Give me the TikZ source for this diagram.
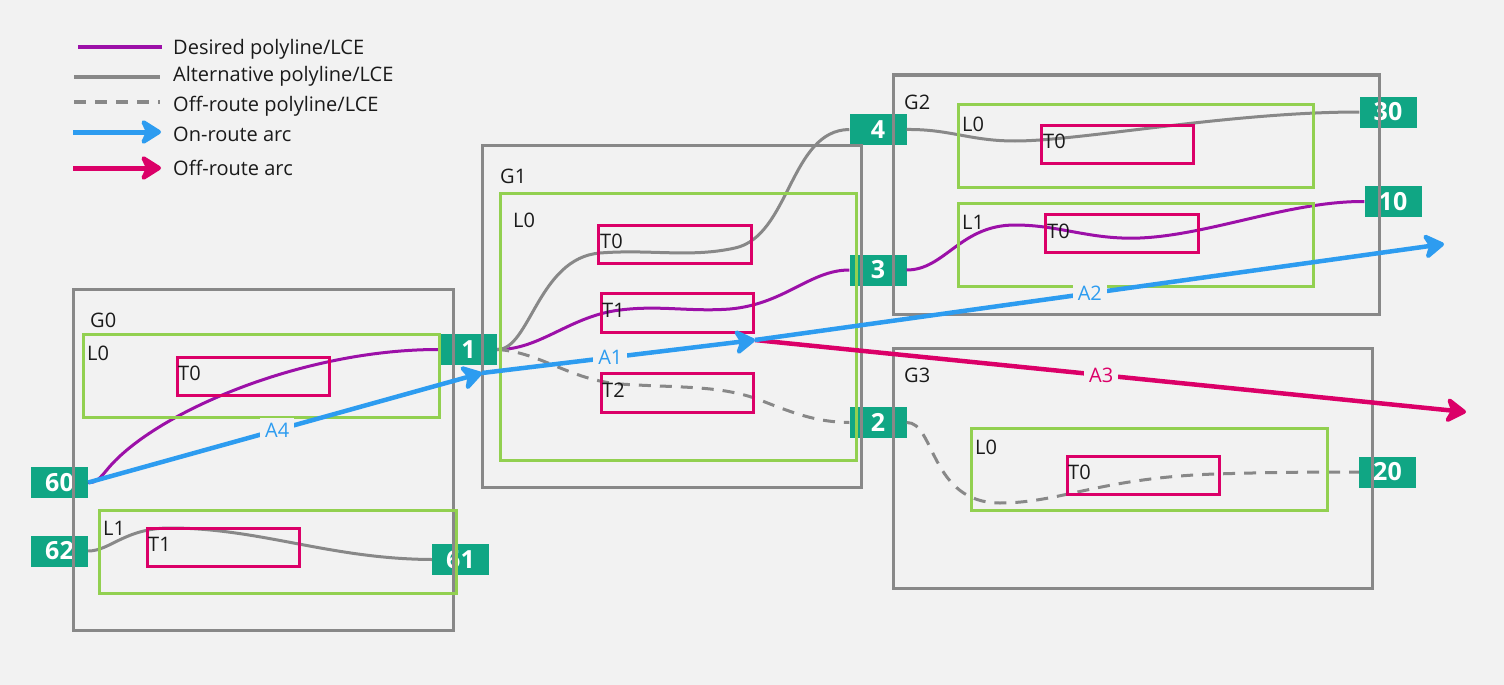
\documentclass[tikz,border=0pt]{standalone}
\usepackage{fontspec}
\setmainfont{Open Sans}
\usetikzlibrary{arrows.meta,fit}

\definecolor{bgGray}{RGB}{242,242,242}
\definecolor{groupGray}{RGB}{136,136,136}
\definecolor{layerGreen}{RGB}{146,208,80}
\definecolor{tilePink}{RGB}{219,0,104}
\definecolor{desiredPurple}{RGB}{156,16,168}
\definecolor{altGray}{RGB}{136,136,136}
\definecolor{onBlue}{RGB}{45,156,240}
\definecolor{offPink}{RGB}{219,0,104}
\definecolor{portTeal}{RGB}{16,166,132}
\definecolor{inkBlack}{RGB}{26,26,26}

\newcommand{\labelFont}{\fontsize{20}{24}\selectfont}
\newcommand{\portFont}{\fontsize{25}{28}\selectfont\bfseries}

\begin{document}
\begin{tikzpicture}[x=1pt, y=-1pt]

  \tikzstyle{groupBox} = [draw=groupGray, line width=3pt, inner sep=0pt];
  \tikzstyle{layerBox} = [draw=layerGreen, line width=3pt, inner sep=0pt];
  \tikzstyle{tileBox} = [draw=tilePink, line width=3pt, inner sep=0pt];
  \tikzstyle{portNode} = [fill=portTeal, text=white, font=\portFont, minimum width=57pt, minimum height=31pt, inner sep=0pt];
  \tikzstyle{plainText} = [font=\labelFont, text=inkBlack, inner sep=0pt, anchor=base west];
  \tikzstyle{arcLabel} = [font=\labelFont, fill=bgGray, inner sep=5pt];
  \tikzstyle{desiredLine} = [draw=desiredPurple, line width=3pt];
  \tikzstyle{altLine} = [draw=altGray, line width=3pt];
  \tikzstyle{offLine} = [altLine, dash pattern=on 12pt off 9pt];
  \tikzstyle{onRoute} = [draw=onBlue, line width=4.5pt, -{Stealth[length=24pt, width=30pt, inset=7pt, round]}];
  \tikzstyle{offRoute} = [draw=offPink, line width=4.5pt, -{Stealth[length=24pt, width=30pt, inset=7pt, round]}];

  \fill[bgGray] (0,0) rectangle (1504,685);
  \useasboundingbox (0,0) rectangle (1504,685);

  % legend
  \draw[desiredLine, line width=3.5pt] (78,47) -- (162,47);
  \draw[altLine, line width=3.5pt] (74,77) -- (160,77);
  \draw[offLine, line width=3.5pt] (74,102) -- (160,102);
  \draw[onRoute, line width=5pt] (73,132) -- (161,132);
  \draw[offRoute, line width=5pt] (73,168) -- (161,168);
  \node[plainText] (legDesired) at (173,55) {Desired polyline/LCE};
  \node[plainText] (legAlt) at (173,81.5) {Alternative polyline/LCE};
  \node[plainText] (legOff) at (173,111) {Off-route polyline/LCE};
  \node[plainText] (legOn) at (173,141) {On-route arc};
  \node[plainText] (legOffArc) at (173,175.5) {Off-route arc};

  % ports
  \node[portNode] (p1) at (468.5,349.5) {1};
  \node[portNode] (p2) at (878,422.5) {2};
  \node[portNode] (p3) at (878,270) {3};
  \node[portNode] (p4) at (878,129.5) {4};
  \node[portNode] (p10) at (1393,201.5) {10};
  \node[portNode] (p20) at (1387.5,472) {20};
  \node[portNode] (p30) at (1388,112) {30};
  \node[portNode] (p60) at (59.5,482.5) {60};
  \node[portNode] (p61) at (460.5,559.5) {61};
  \node[portNode] (p62) at (59.5,551) {62};

  % polylines
  \draw[desiredLine] (p60.east) .. controls (96,483) and (100,478) .. (106,471)
    .. controls (150,415) and (300,349) .. (p1.west);
  \draw[desiredLine] (p1.east) .. controls (540,350) and (570,316) .. (620,310)
    .. controls (660,305) and (690,312) .. (730,309)
    .. controls (785,304) and (810,270) .. (p3.west);
  \draw[desiredLine] (p3.east) .. controls (945,270) and (960,225) .. (1015,225)
    .. controls (1060,225) and (1090,240) .. (1140,238)
    .. controls (1210,235) and (1290,201) .. (p10.west);
  \draw[altLine] (p1.east) .. controls (530,350) and (538,258) .. (600,253)
    .. controls (650,249) and (690,258) .. (735,248)
    .. controls (790,236) and (790,130) .. (p4.west);
  \draw[altLine] (p4.east) .. controls (950,129) and (970,141) .. (1015,141)
    .. controls (1080,141) and (1230,112) .. (p30.west);
  \draw[altLine] (p62.east) .. controls (110,551) and (125,528) .. (170,528)
    .. controls (260,528) and (330,559) .. (p61.west);
  \draw[offLine] (p1.east) .. controls (540,352) and (570,380) .. (620,384)
    .. controls (680,388) and (720,385) .. (760,400)
    .. controls (800,416) and (820,422) .. (p2.west);
  \draw[offLine] (p2.east) .. controls (935,422) and (930,503) .. (1000,503)
    .. controls (1060,503) and (1100,478) .. (1215,474)
    .. controls (1280,472) and (1320,472) .. (p20.west);

  % groups, layers, tiles
  \node[groupBox, fit={(73,289) (453,630)}] (g0) {};
  \node[layerBox, fit={(83,334) (439,417)}] (g0l0) {};
  \node[tileBox, fit={(177,357) (329,395)}] (g0l0t0) {};
  \node[layerBox, fit={(99,510) (456,593)}] (g0l1) {};
  \node[tileBox, fit={(147,528) (299,566)}] (g0l1t1) {};

  \node[groupBox, fit={(482,145) (861,487)}] (g1) {};
  \node[layerBox, fit={(500,193) (856,460)}] (g1l0) {};
  \node[tileBox, fit={(598,225) (751,263)}] (g1l0t0) {};
  \node[tileBox, fit={(601,293) (753,332)}] (g1l0t1) {};
  \node[tileBox, fit={(601,373) (753,412)}] (g1l0t2) {};

  \node[groupBox, fit={(893,75) (1379,314)}] (g2) {};
  \node[layerBox, fit={(958,104) (1313,187)}] (g2l0) {};
  \node[tileBox, fit={(1041,125) (1193,163)}] (g2l0t0) {};
  \node[layerBox, fit={(958,203) (1313,286)}] (g2l1) {};
  \node[tileBox, fit={(1045,214) (1198,252)}] (g2l1t0) {};

  \node[groupBox, fit={(893,348) (1372,588)}] (g3) {};
  \node[layerBox, fit={(971,428) (1327,510)}] (g3l0) {};
  \node[tileBox, fit={(1067,456) (1219,494)}] (g3l0t0) {};

  \node[plainText] (g0Label) at (90,327) {G0};
  \node[plainText] (g0l0Label) at (87,360) {L0};
  \node[plainText] (g0l0t0Label) at (178,380) {T0};
  \node[plainText] (g0l1Label) at (103,535.5) {L1};
  \node[plainText] (g0l1t1Label) at (148,551) {T1};
  \node[plainText] (g1Label) at (500,183) {G1};
  \node[plainText] (g1l0Label) at (513,227) {L0};
  \node[plainText] (g1l0t0Label) at (600,248) {T0};
  \node[plainText] (g1l0t1Label) at (602,317.5) {T1};
  \node[plainText] (g1l0t2Label) at (602,397) {T2};
  \node[plainText] (g2Label) at (904,109) {G2};
  \node[plainText] (g2l0Label) at (962,131) {L0};
  \node[plainText] (g2l0t0Label) at (1043,148) {T0};
  \node[plainText] (g2l1Label) at (962,229) {L1};
  \node[plainText] (g2l1t0Label) at (1047,238) {T0};
  \node[plainText] (g3Label) at (904,382) {G3};
  \node[plainText] (g3l0Label) at (975,454) {L0};
  \node[plainText] (g3l0t0Label) at (1068,479) {T0};

  % arcs
  \coordinate (hubA) at (482,373);
  \coordinate (hubB) at (755,340);
  \coordinate (endA2) at (1444,244);
  \coordinate (endA3) at (1466,412);
  \draw[onRoute] (p60.east) -- node[arcLabel, text=onBlue, pos=0.48] (a4) {A4} (hubA);
  \draw[onRoute] (hubA) -- node[arcLabel, text=onBlue, pos=0.47] (a1) {A1} (hubB);
  \draw[offRoute] (hubB) -- node[arcLabel, text=offPink, pos=0.487] (a3) {A3} (endA3);
  \draw[onRoute] (hubB) -- node[arcLabel, text=onBlue, pos=0.486] (a2) {A2} (endA2);

\end{tikzpicture}
\end{document}
